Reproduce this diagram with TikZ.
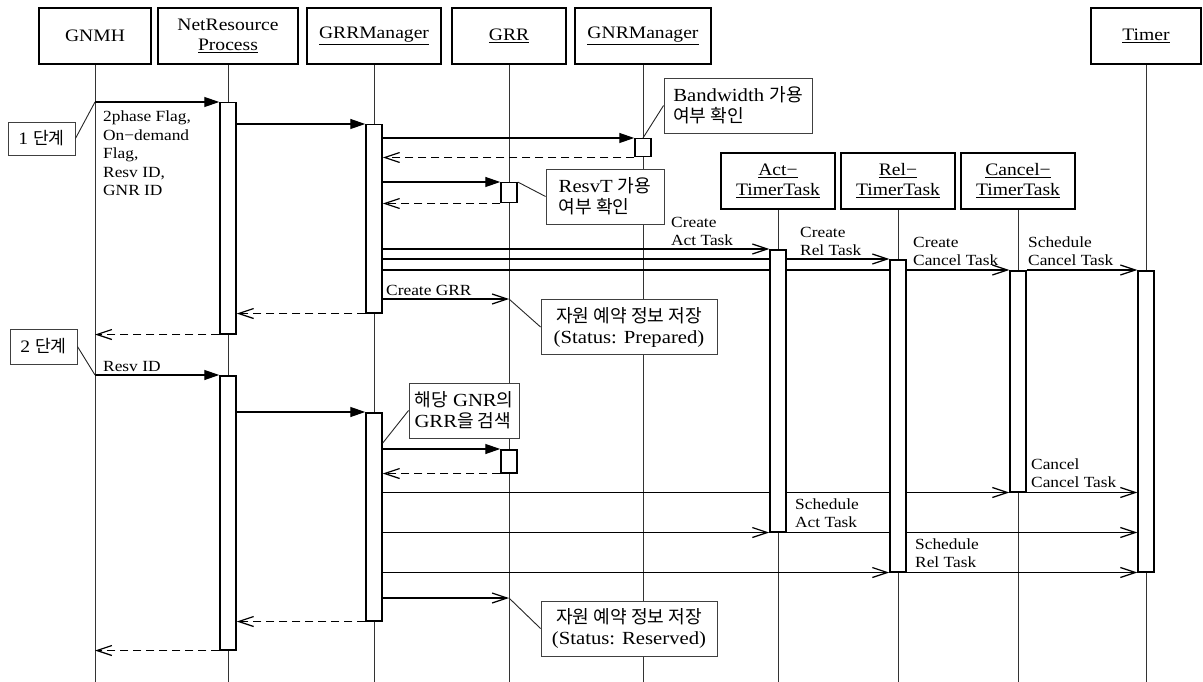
\documentclass[tikz,border=0pt]{standalone}
\usepackage{fontspec}
\setmainfont[FakeStretch=1.12]{Liberation Serif}
\newfontfamily\kr[Scale=0.98]{Noto Sans CJK KR}
\usetikzlibrary{arrows.meta,backgrounds}

\newcommand{\hdsize}{\fontsize{17.5}{20}\selectfont}
\newcommand{\msgsize}{\fontsize{15.5}{18.5}\selectfont}
\newcommand{\notesize}{\fontsize{18.5}{21}\selectfont}

\begin{document}
\begin{tikzpicture}[x=1pt, y=-1pt,
  obj/.style={draw, line width=1.7pt, fill=white, minimum height=56pt, inner sep=1pt, align=center, font=\hdsize},
  life/.style={black!80, line width=1pt},
  bar/.style={draw, fill=white, line width=1.5pt, minimum width=16pt, inner sep=0pt},
  sync/.style={line width=1.3pt, -{Triangle[length=15pt,width=10pt]}},
  async/.style={line width=1.2pt, -{Straight Barb[length=15pt,width=10pt]}},
  ret/.style={async, dash pattern=on 8pt off 5pt},
  msg/.style={font=\msgsize, align=left, inner sep=0pt},
  note/.style={draw=black!75, fill=white, line width=0.9pt, minimum height=55pt, inner sep=2pt, font=\notesize},
  tie/.style={black!85, line width=0.9pt}
]

\useasboundingbox (0,0) rectangle (1203,682);

% ---- objects (top row) ----
\node[obj, minimum width=112pt] (gnmh) at (95,36) {GNMH};
\node[obj, minimum width=140pt] (nrp) at (228,36) {NetResource\\\underline{Process}};
\node[obj, minimum width=134pt] (grrm) at (374,36) {\underline{GRRManager}};
\node[obj, minimum width=114pt] (grr) at (509,36) {\underline{GRR}};
\node[obj, minimum width=136pt] (gnrm) at (643,36) {\underline{GNRManager}};
\node[obj, minimum width=110pt] (timer) at (1146,36) {\underline{Timer}};

% ---- timer tasks (created later) ----
\node[obj, minimum width=114pt] (act) at (778,181) {\underline{Act−}\\\underline{TimerTask}};
\node[obj, minimum width=114pt] (rel) at (898,181) {\underline{Rel−}\\\underline{TimerTask}};
\node[obj, minimum width=114pt] (cncl) at (1018,181) {\underline{Cancel−}\\\underline{TimerTask}};

% ---- activation bars ----
\node[bar, anchor=north, minimum height=231pt] (nrpA1) at (228,102) {};
\node[bar, anchor=north, minimum height=274pt] (nrpA2) at (228,375) {};
\node[bar, anchor=north, minimum height=188pt] (grrmA1) at (374,124) {};
\node[bar, anchor=north, minimum height=208pt] (grrmA2) at (374,412) {};
\node[bar, anchor=north, minimum height=18pt] (gnrmB) at (643,138) {};
\node[bar, anchor=north, minimum height=20pt] (grrB1) at (509,182) {};
\node[bar, anchor=north, minimum height=23pt] (grrB2) at (509,449) {};
\node[bar, anchor=north, minimum height=282pt] (actA) at (778,249) {};
\node[bar, anchor=north, minimum height=312pt] (relA) at (898,259) {};
\node[bar, anchor=north, minimum height=221pt] (cnclA) at (1018,270) {};
\node[bar, anchor=north, minimum height=301pt] (timerA) at (1146,270) {};

\coordinate (grr1) at (grr.south |- 0,299);
\coordinate (grr2) at (grr.south |- 0,598);

\begin{scope}[on background layer]
% lifelines
\foreach \n in {gnmh,nrp,grrm,grr,gnrm,act,rel,cncl,timer}
  \draw[life] (\n.south) -- (\n.south |- 0,682);

% ===== 1 단계 =====
\draw[sync] (gnmh.south |- nrpA1.north) -- (nrpA1.north west);
\draw[sync] (nrpA1.east |- grrmA1.north) -- (grrmA1.north west);
\draw[sync] (grrmA1.east |- gnrmB.north) -- (gnrmB.north west);
\draw[ret] (gnrmB.south west) -- (grrmA1.east |- gnrmB.south);
\draw[sync] (grrmA1.east |- grrB1.north) -- (grrB1.north west);
\draw[ret] (grrB1.south west) -- (grrmA1.east |- grrB1.south);
\draw[async] (grrmA1.east |- actA.north) -- (actA.north west);
\draw[async] (grrmA1.east |- relA.north) -- (relA.north west);
\draw[async] (grrmA1.east |- cnclA.north) -- (cnclA.north west);
\draw[async] (cnclA.north east) -- (timerA.north west);
\draw[async] (grrmA1.east |- grr1) -- (grr1);
\draw[ret] (grrmA1.south west) -- (nrpA1.east |- grrmA1.south);
\draw[ret] (nrpA1.south west) -- (gnmh.south |- nrpA1.south);

% ===== 2 단계 =====
\draw[sync] (gnmh.south |- nrpA2.north) -- (nrpA2.north west);
\draw[sync] (nrpA2.east |- grrmA2.north) -- (grrmA2.north west);
\draw[sync] (grrmA2.east |- grrB2.north) -- (grrB2.north west);
\draw[ret] (grrB2.south west) -- (grrmA2.east |- grrB2.south);
\draw[async] (grrmA2.east |- cnclA.south) -- (cnclA.south west);
\draw[async] (cnclA.south east) -- (timerA.west |- cnclA.south);
\draw[async] (grrmA2.east |- actA.south) -- (actA.south west);
\draw[async] (actA.south east) -- (timerA.west |- actA.south);
\draw[async] (grrmA2.east |- relA.south) -- (relA.south west);
\draw[async] (relA.south east) -- (timerA.south west);
\draw[async] (grrmA2.east |- grr2) -- (grr2);
\draw[ret] (grrmA2.south west) -- (nrpA2.east |- grrmA2.south);
\draw[ret] (nrpA2.south west) -- (gnmh.south |- nrpA2.south);
\end{scope}

% ---- notes ----
\node[note, minimum width=67pt, minimum height=33pt, font=\hdsize] (step1) at (41.5,138.5) {1 {\kr 단계}};
\node[note, minimum width=67pt, minimum height=35pt, font=\hdsize] (step2) at (43.5,346.5) {2 {\kr 단계}};
\node[note, minimum width=148pt, align=left] (bwnote) at (738,105.5) {Bandwidth {\kr 가용}\\{\kr 여부 확인}};
\node[note, minimum width=118pt, align=left] (rsnote) at (605,196.5) {ResvT {\kr 가용}\\{\kr 여부 확인}};
\node[note, minimum width=176pt, align=center] (prnote) at (629,327) {{\kr 자원 예약 정보 저장}\\(Status: Prepared)};
\node[note, minimum width=110pt, align=left] (srnote) at (464,410.5) {{\kr 해당} GNR{\kr 의}\\GRR{\kr 을 검색}};
\node[note, minimum width=176pt, align=center] (rvnote) at (629,628.5) {{\kr 자원 예약 정보 저장}\\(Status: Reserved)};

\draw[tie] (step1.east) -- (gnmh.south |- nrpA1.north);
\draw[tie] (step2.east) -- (gnmh.south |- nrpA2.north);
\draw[tie] (bwnote.west) -- (gnrmB.north);
\draw[tie] (rsnote.west) -- (grrB1.north east);
\draw[tie] (prnote.west) -- (grr1);
\draw[tie] (srnote.west) -- (grrmA2.east |- 0,443);
\draw[tie] (rvnote.west) -- (grr2);

% ---- message labels ----
\node[msg, anchor=north west] (lbFlags) at (103,111) {2phase Flag,\\On−demand\\Flag,\\Resv ID,\\GNR ID};
\node[msg, anchor=south west] (lbCAct) at (671,246) {Create\\Act Task};
\node[msg, anchor=south west] (lbCRel) at (800,256) {Create\\Rel Task};
\node[msg, anchor=south west] (lbCCan) at (913,266) {Create\\Cancel Task};
\node[msg, anchor=south west] (lbSCan) at (1028,266) {Schedule\\Cancel Task};
\node[msg, anchor=south west] (lbGRR) at (386,296) {Create GRR};
\node[msg, anchor=south west] (lbResv) at (103,372) {Resv ID};
\node[msg, anchor=south west] (lbCnl) at (1031,488) {Cancel\\Cancel Task};
\node[msg, anchor=south west] (lbSAct) at (795,528) {Schedule\\Act Task};
\node[msg, anchor=south west] (lbSRel) at (915,568) {Schedule\\Rel Task};

\end{tikzpicture}
\end{document}
